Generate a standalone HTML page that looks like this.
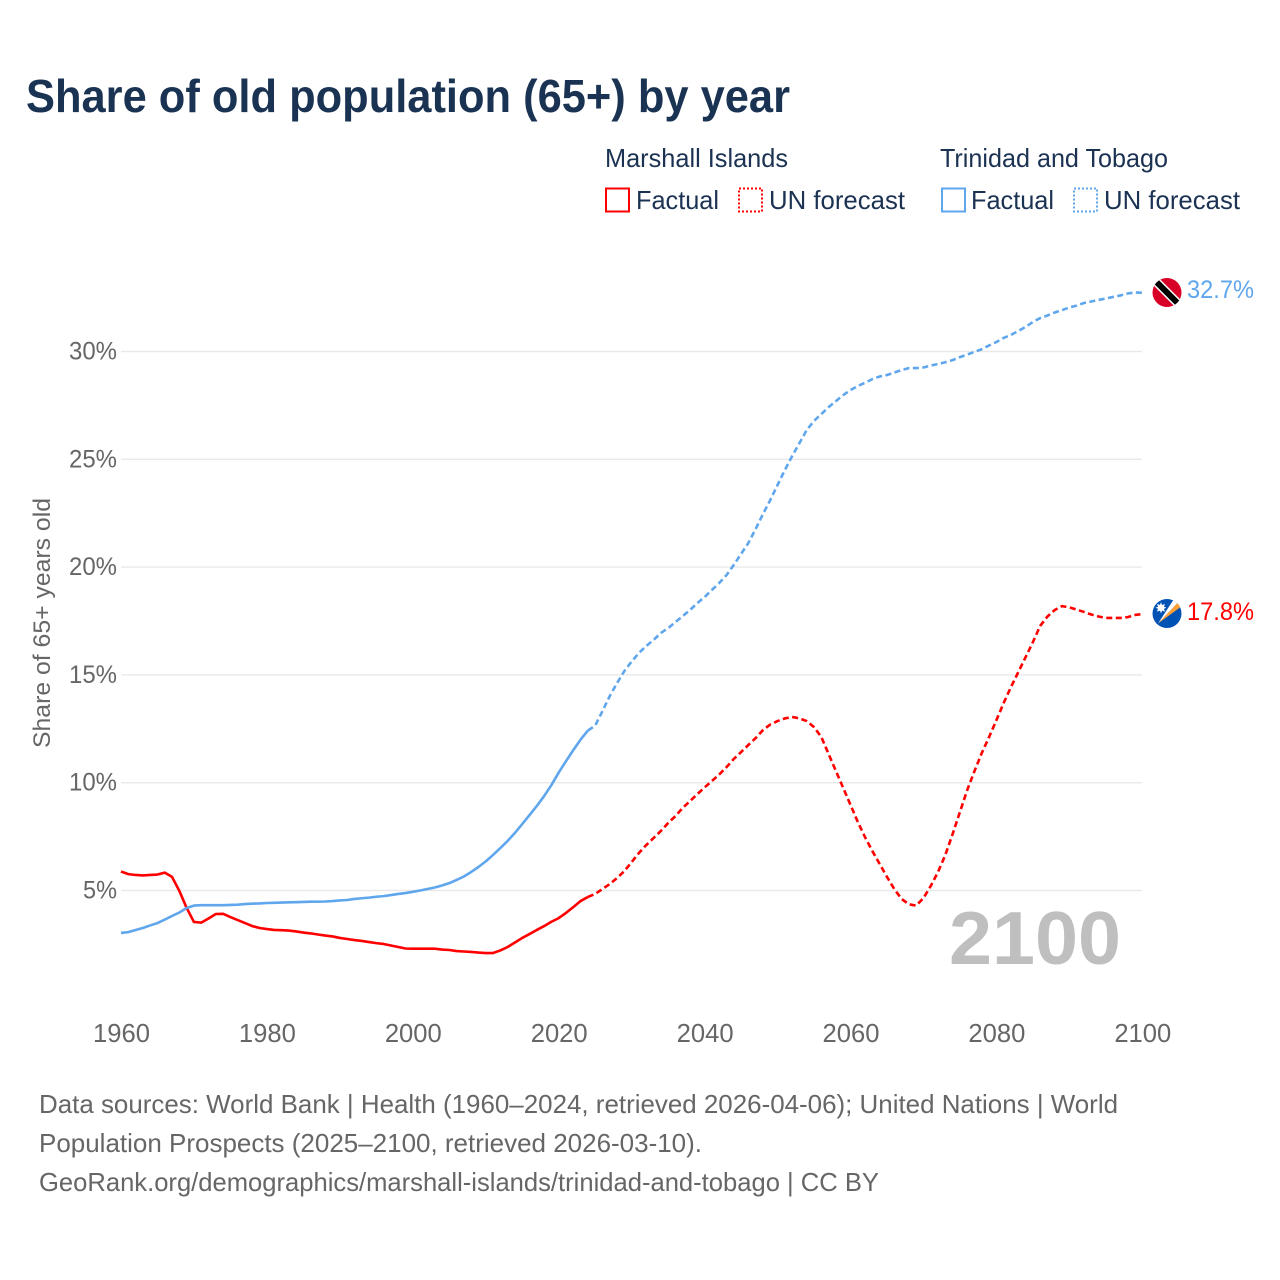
<!DOCTYPE html>
<html lang="en">
<head>
<meta charset="utf-8">
<title>Share of old population (65+) by year</title>
<style>
html,body{margin:0;padding:0;background:#fff;width:1280px;height:1280px;overflow:hidden}
svg{display:block;font-family:"Liberation Sans",Arial,sans-serif}
</style>
</head>
<body>
<svg id="chart" xmlns="http://www.w3.org/2000/svg" width="1280" height="1280" viewBox="0 0 1280 1280">
  <rect x="0" y="0" width="1280" height="1280" fill="#ffffff"/>
  <text x="26" y="112" font-size="46" font-weight="700" fill="#1a3353" textLength="764" lengthAdjust="spacingAndGlyphs">Share of old population (65+) by year</text>

  <g font-size="26" fill="#1b3252">
    <text x="605" y="167" textLength="183" lengthAdjust="spacingAndGlyphs">Marshall Islands</text>
    <text x="940" y="167" textLength="228" lengthAdjust="spacingAndGlyphs">Trinidad and Tobago</text>
    <rect x="606" y="188.5" width="23" height="23" fill="none" stroke="#ff0000" stroke-width="2"/>
    <text x="636" y="209" textLength="83" lengthAdjust="spacingAndGlyphs">Factual</text>
    <rect x="739" y="188.5" width="23" height="23" fill="none" stroke="#ff0000" stroke-width="2" stroke-dasharray="2 2"/>
    <text x="769" y="209" textLength="136" lengthAdjust="spacingAndGlyphs">UN forecast</text>
    <rect x="942" y="188.5" width="23" height="23" fill="none" stroke="#5fa6ec" stroke-width="2"/>
    <text x="971" y="209" textLength="83" lengthAdjust="spacingAndGlyphs">Factual</text>
    <rect x="1074" y="188.5" width="23" height="23" fill="none" stroke="#5fa6ec" stroke-width="2" stroke-dasharray="2 2"/>
    <text x="1104" y="209" textLength="136" lengthAdjust="spacingAndGlyphs">UN forecast</text>
  </g>

  <g id="grid"></g>
  <g id="yticks"></g>
  <g id="xticks"></g>
  <text transform="translate(50 748) rotate(-90)" font-size="24.5" fill="#666666" textLength="250" lengthAdjust="spacingAndGlyphs">Share of 65+ years old</text>

  <text x="949" y="964" font-size="75" font-weight="700" fill="#bfbfbf" textLength="172" lengthAdjust="spacingAndGlyphs">2100</text>

  <g id="series"></g>

  <g>
    <clipPath id="tt-clip"><circle cx="1167" cy="292.5" r="14.5"/></clipPath>
    <g clip-path="url(#tt-clip)">
      <rect x="1150" y="276" width="34" height="34" fill="#d80027"/>
      <line x1="1150" y1="275.5" x2="1184" y2="309.5" stroke="#ffffff" stroke-width="9"/>
      <line x1="1150" y1="275.5" x2="1184" y2="309.5" stroke="#000000" stroke-width="6"/>
    </g>
  </g>
  <text x="1187" y="298" font-size="25" fill="#5fa6ec" textLength="67" lengthAdjust="spacingAndGlyphs">32.7%</text>

  <g>
    <clipPath id="mh-clip"><circle cx="1167" cy="613.5" r="14.5"/></clipPath>
    <g clip-path="url(#mh-clip)">
      <rect x="1150" y="597" width="34" height="34" fill="#0052b4"/>
      <polygon points="1158,623.5 1174,599 1178.5,602" fill="#ffffff"/>
      <polygon points="1158,623.5 1178.5,602 1182,606" fill="#ffa033"/>
      <polygon points="1161,602 1162,605 1165,604 1164,606.8 1166.5,607.8 1164,608.8 1165,611.6 1162,610.6 1161,613.5 1160,610.6 1157,611.6 1158,608.8 1155.5,607.8 1158,606.8 1157,604 1160,605" fill="#ffffff"/>
    </g>
  </g>
  <text x="1187" y="620" font-size="25" fill="#ff0000" textLength="67" lengthAdjust="spacingAndGlyphs">17.8%</text>

  <g font-size="26" fill="#666666">
    <text x="39" y="1113" textLength="1079" lengthAdjust="spacingAndGlyphs">Data sources: World Bank | Health (1960–2024, retrieved 2026-04-06); United Nations | World</text>
    <text x="39" y="1152" textLength="663" lengthAdjust="spacingAndGlyphs">Population Prospects (2025–2100, retrieved 2026-03-10).</text>
    <text x="39" y="1191" textLength="840" lengthAdjust="spacingAndGlyphs">GeoRank.org/demographics/marshall-islands/trinidad-and-tobago | CC BY</text>
  </g>
</svg>
<script>
const firstYear = 1960;
const lastFactualYear = 2024;
const xTickLabels = [1960, 1980, 2000, 2020, 2040, 2060, 2080, 2100];
const yTickLabels = [5, 10, 15, 20, 25, 30];
const marshallIslands = [
  5.88,5.76,5.72,5.70,5.72,5.74,5.83,5.63,4.98,4.19,
  3.54,3.51,3.70,3.91,3.92,3.77,3.63,3.49,3.35,3.26,
  3.21,3.17,3.16,3.14,3.10,3.05,3.01,2.96,2.91,2.87,
  2.80,2.75,2.70,2.66,2.61,2.56,2.52,2.45,2.38,2.31,
  2.30,2.30,2.30,2.30,2.26,2.24,2.19,2.17,2.15,2.12,
  2.10,2.10,2.22,2.38,2.59,2.80,2.98,3.17,3.35,3.55,
  3.72,3.96,4.23,4.51,4.70,4.84,5.07,5.30,5.58,5.90,
  6.32,6.74,7.11,7.43,7.76,8.13,8.45,8.83,9.15,9.47,
  9.78,10.08,10.38,10.72,11.10,11.42,11.75,12.07,12.44,12.70,
  12.86,12.98,13.05,12.98,12.86,12.58,12.12,11.33,10.54,9.76,
  8.97,8.18,7.47,6.83,6.23,5.63,5.07,4.61,4.36,4.30,
  4.65,5.21,5.86,6.65,7.62,8.64,9.66,10.54,11.38,12.12,
  12.90,13.70,14.44,15.13,15.82,16.52,17.27,17.71,18.01,18.19,
  18.13,18.03,17.92,17.80,17.71,17.64,17.64,17.64,17.68,17.78,
  17.82
];
const trinidadAndTobago = [
  3.03,3.07,3.17,3.26,3.38,3.49,3.65,3.82,3.98,4.19,
  4.30,4.32,4.32,4.32,4.32,4.33,4.34,4.37,4.39,4.40,
  4.42,4.43,4.44,4.45,4.46,4.47,4.48,4.48,4.49,4.51,
  4.54,4.56,4.61,4.64,4.67,4.71,4.74,4.79,4.84,4.88,
  4.94,5.00,5.07,5.14,5.23,5.34,5.49,5.65,5.86,6.09,
  6.35,6.65,6.97,7.30,7.67,8.08,8.50,8.92,9.38,9.89,
  10.47,11.00,11.51,12.00,12.42,12.65,13.32,14.02,14.62,15.18,
  15.62,16.02,16.34,16.62,16.94,17.17,17.45,17.73,18.01,18.33,
  18.61,18.94,19.26,19.63,20.10,20.61,21.12,21.77,22.46,23.11,
  23.81,24.50,25.15,25.75,26.36,26.78,27.10,27.42,27.70,27.98,
  28.21,28.40,28.55,28.72,28.84,28.91,29.02,29.14,29.23,29.23,
  29.26,29.35,29.42,29.50,29.60,29.74,29.86,29.98,30.11,30.28,
  30.44,30.63,30.77,30.95,31.14,31.37,31.55,31.67,31.81,31.92,
  32.04,32.13,32.25,32.32,32.39,32.46,32.53,32.60,32.69,32.74,
  32.72
];

const NS = 'http://www.w3.org/2000/svg';
function xScale(year) { return 121 + (year - 1960) * 7.295; }
function yScale(value) { return 998.3 - value * 21.56; }
function linePath(values, fromYear, toYear) {
  let d = '';
  values.forEach(function (v, i) {
    const yr = firstYear + i;
    if (yr < fromYear || yr > toYear) return;
    d += (d ? 'L' : 'M') + xScale(yr).toFixed(2) + ' ' + yScale(v).toFixed(2);
  });
  return d;
}

const grid = document.getElementById('grid');
const yticks = document.getElementById('yticks');
yTickLabels.forEach(function (v) {
  const line = document.createElementNS(NS, 'line');
  
  
  line.setAttribute('x1', 121);
  line.setAttribute('x2', 1142);
  line.setAttribute('y1', yScale(v));
  line.setAttribute('y2', yScale(v));
  line.setAttribute('stroke', '#e9e9e9');
  line.setAttribute('stroke-width', '1.4');
  grid.appendChild(line);

  const t = document.createElementNS(NS, 'text');
  
  
  const label = v + '%';
  t.setAttribute('x', 117);
  t.setAttribute('y', yScale(v) + 8);
  t.setAttribute('text-anchor', 'end');
  t.setAttribute('font-size', '25');
  t.setAttribute('fill', '#666666');
  t.setAttribute('textLength', label.length === 3 ? 48 : 34);
  t.setAttribute('lengthAdjust', 'spacingAndGlyphs');
  t.textContent = label;
  yticks.appendChild(t);
});

const xticks = document.getElementById('xticks');
xTickLabels.forEach(function (yr) {
  const t = document.createElementNS(NS, 'text');
  
  
  t.setAttribute('x', xScale(yr) + 0.5);
  t.setAttribute('y', 1042);
  t.setAttribute('text-anchor', 'middle');
  t.setAttribute('font-size', '25.6');
  t.setAttribute('fill', '#666666');
  t.textContent = yr;
  xticks.appendChild(t);
});

const seriesGroup = document.getElementById('series');
function addLine(values, color, from, to, dashed, name) {
  const p = document.createElementNS(NS, 'path');
  
  
  p.setAttribute('d', linePath(values, from, to));
  p.setAttribute('fill', 'none');
  p.setAttribute('stroke', color);
  p.setAttribute('stroke-width', '2.6');
  p.setAttribute('stroke-linejoin', 'round');
  if (dashed) p.setAttribute('stroke-dasharray', '6 3.5');
  seriesGroup.appendChild(p);
}
addLine(marshallIslands, '#ff0000', firstYear, lastFactualYear, false, 'line-marshall-islands-factual');
addLine(marshallIslands, '#ff0000', lastFactualYear, 2100, true, 'line-marshall-islands-forecast');
addLine(trinidadAndTobago, '#5fa6ec', firstYear, lastFactualYear, false, 'line-trinidad-and-tobago-factual');
addLine(trinidadAndTobago, '#5fa6ec', lastFactualYear, 2100, true, 'line-trinidad-and-tobago-forecast');
</script>
</body>
</html>
